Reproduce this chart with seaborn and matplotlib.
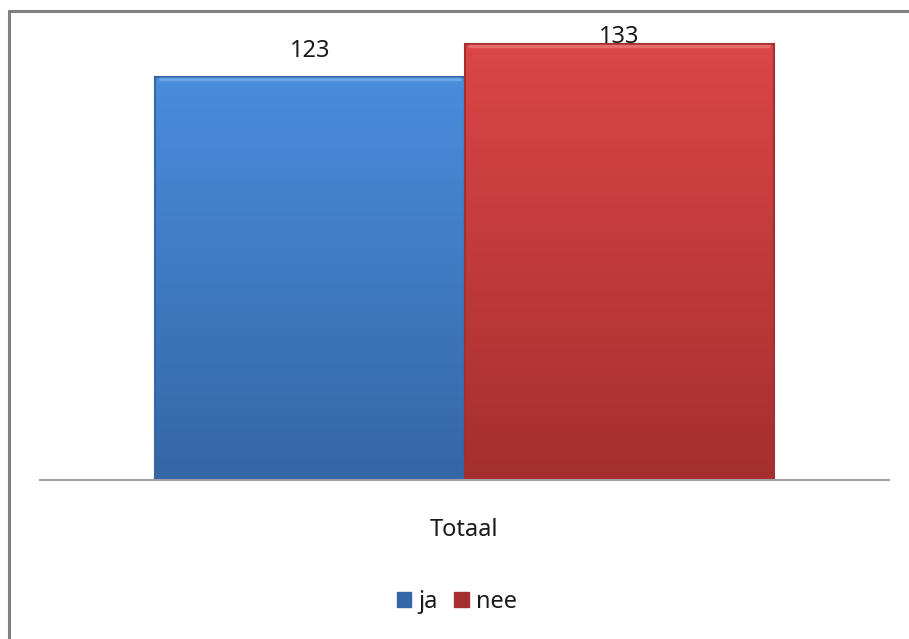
import numpy as np
import pandas as pd
import matplotlib
matplotlib.use("Agg")
import matplotlib.pyplot as plt
from matplotlib.lines import Line2D
from matplotlib.patches import Patch
from matplotlib.colors import LinearSegmentedColormap
import seaborn as sns

categories = ["Totaal"]
series = ["ja", "nee"]
values = [123, 133]
colors = {"ja": "#4080d0", "nee": "#d04040"}
grad = {"ja": ("#4a8ddc", "#3566a6"), "nee": ("#dc4646", "#a52f2f")}
light = {"ja": "#6aa6ea", "nee": "#e86a6a"}

df = pd.DataFrame({"cat": categories * len(series), "serie": series, "val": values})

sns.set_theme(style="white")
plt.rcParams["font.family"] = ["Noto Sans", "DejaVu Sans"]

fig = plt.figure(figsize=(9.09, 6.39), dpi=100)
ax = fig.add_axes([40 / 909, 1 - 480 / 639, 849 / 909, (480 - 21.2) / 639])
sns.barplot(data=df, x="cat", y="val", hue="serie", palette=colors,
            width=0.728, ax=ax, legend=False, saturation=1)
ax.set_xlim(-0.5, 0.5)
ax.set_ylim(0, 140)

bars = list(ax.patches[:len(series)])
for patch, s in zip(bars, series):
    x0, y0 = patch.get_x(), patch.get_y()
    w, h = patch.get_width(), patch.get_height()
    cmap = LinearSegmentedColormap.from_list(s, [grad[s][1], grad[s][0]])
    g = np.linspace(0, 1, 256).reshape(-1, 1)
    im = ax.imshow(g, cmap=cmap, aspect="auto", origin="lower",
                   extent=[x0, x0 + w, y0, y0 + h], zorder=patch.get_zorder() + 0.1)
    im.set_clip_path(patch)
    edge = plt.Rectangle((x0, y0), w, h, fill=False,
                         edgecolor=grad[s][1], linewidth=1.5,
                         zorder=patch.get_zorder() + 0.2)
    ax.add_patch(edge)
    ax.plot([x0 + 0.004, x0 + w - 0.004], [y0 + h - 0.5, y0 + h - 0.5],
            color=light[s], linewidth=2.5, solid_capstyle="butt",
            zorder=patch.get_zorder() + 0.3)
ax.set_xlim(-0.5, 0.5)
ax.set_ylim(0, 140)

# data labels (clamped inside plot area like the original)
for patch, v in zip(bars, values):
    ax.text(patch.get_x() + patch.get_width() / 2, min(v + 6.1, 133.4), str(v),
            ha="center", va="baseline", fontsize=17, color="#1a1a1a", zorder=5)

ax.set_xlabel("")
ax.set_ylabel("")
ax.set_yticks([])
ax.tick_params(axis="x", length=0, pad=27, labelsize=17, labelcolor="#1a1a1a")
for sp in ["top", "left", "right"]:
    ax.spines[sp].set_visible(False)
ax.spines["bottom"].set_color("#a0a0a0")
ax.spines["bottom"].set_linewidth(1.5)

handles = [Patch(facecolor=grad[s][1], edgecolor=grad[s][1]) for s in series]
fig.legend(handles, series, loc="center", bbox_to_anchor=(457 / 909, 1 - 602 / 639),
           ncol=2, frameon=False, fontsize=17, handlelength=0.6, handleheight=0.6,
           handletextpad=0.3, columnspacing=0.7, labelcolor="#1a1a1a")

# outer border (top and left only visible)
fig.add_artist(Line2D([9 / 909, 1.0], [1 - 11 / 639, 1 - 11 / 639],
                      transform=fig.transFigure, color="#808080", linewidth=2.2))
fig.add_artist(Line2D([9 / 909, 9 / 909], [0, 1 - 11 / 639],
                      transform=fig.transFigure, color="#808080", linewidth=2.2))

fig.savefig("out.png", dpi=100)
